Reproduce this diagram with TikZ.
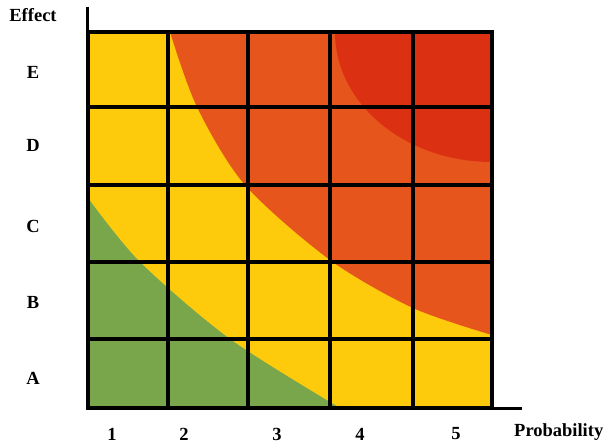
\documentclass[tikz,border=0pt]{standalone}
\usepackage{fontspec}
\setmainfont{Liberation Serif}
\definecolor{riskyellow}{HTML}{FDCB0C}
\definecolor{riskorange}{HTML}{E6561C}
\definecolor{riskred}{HTML}{DC3012}
\definecolor{riskgreen}{HTML}{79A64A}

\begin{document}
\begin{tikzpicture}[x=1pt,y=-1pt,
    lbl/.style={font=\bfseries\fontsize{18.5}{18.5}\selectfont,inner sep=1pt},
    gridline/.style={line width=3.5pt},
    axisline/.style={line width=3pt}]
  \useasboundingbox (0,0) rectangle (605,444);
  % zones
  \fill[riskyellow] (88,32) rectangle (492,408);
  \fill[riskorange] plot[smooth] coordinates {(170,32) (197,107) (245,185) (330,260) (413,308) (492,335)} -- (492,32) -- cycle;
  \fill[riskred] (335,32) arc[start angle=180, end angle=90, x radius=157, y radius=130] -- (492,32) -- cycle;
  \fill[riskgreen] plot[smooth] coordinates {(88,198) (140,262) (230,339) (340,408)} -- (88,408) -- cycle;
  % grid
  \foreach \x in {168,248,330,413}
    \draw[gridline] (\x,32) -- (\x,408);
  \foreach \y in {107,185,262,339}
    \draw[gridline] (88,\y) -- (492,\y);
  \draw[gridline] (88,32) rectangle (492,408);
  % axes
  \coordinate (ytop) at (87,7);
  \coordinate (origin) at (87,408);
  \coordinate (xend) at (522,408);
  \draw[axisline] (ytop) -- (origin) -- (xend);
  \node[lbl] (effect) at (33,15) {Effect};
  \node[lbl] (lvlE) at (33,72) {E};
  \node[lbl] (lvlD) at (33,145) {D};
  \node[lbl] (lvlC) at (33,226) {C};
  \node[lbl] (lvlB) at (33,302) {B};
  \node[lbl] (lvlA) at (33,378) {A};
  \node[lbl] (prob1) at (112,434) {1};
  \node[lbl] (prob2) at (184,434) {2};
  \node[lbl] (prob3) at (277,434) {3};
  \node[lbl] (prob4) at (360,434) {4};
  \node[lbl] (prob5) at (456,434) {5};
  \node[lbl,anchor=west,inner sep=0pt] (probability) at (514,432) {Probability};
\end{tikzpicture}
\end{document}
